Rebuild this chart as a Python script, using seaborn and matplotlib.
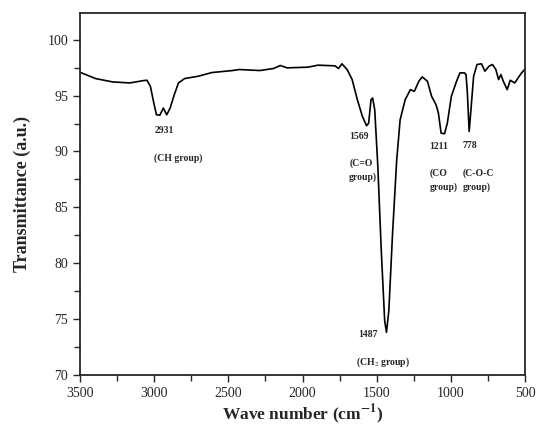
import seaborn as sns
import matplotlib.pyplot as plt
import pandas as pd
from matplotlib.ticker import MultipleLocator

# spectrum (wave number, transmittance)
wave_number = [3500, 3394, 3279, 3164, 3071, 3048, 3025, 3002, 2984, 2961, 2938, 2915,
               2892, 2864, 2836, 2795, 2703, 2611, 2472, 2426, 2288, 2196, 2150, 2104,
               1965, 1896, 1781, 1758, 1735, 1700, 1666, 1631, 1597, 1569, 1555, 1539,
               1528, 1514, 1493, 1470, 1447, 1435, 1419, 1394, 1366, 1343, 1309, 1274,
               1247, 1217, 1194, 1159, 1131, 1101, 1085, 1067, 1044, 1025, 998, 963,
               940, 910, 899, 890, 878, 866, 848, 825, 795, 772, 744, 721, 698, 680,
               664, 648, 622, 601, 571, 548, 525, 500]
transmittance = [97.09, 96.52, 96.22, 96.13, 96.34, 96.37, 95.83, 94.33, 93.28, 93.25, 93.88, 93.28,
                 93.88, 95.08, 96.13, 96.52, 96.73, 97.06, 97.24, 97.33, 97.24, 97.42, 97.69, 97.48,
                 97.54, 97.72, 97.66, 97.42, 97.84, 97.33, 96.43, 94.63, 93.13, 92.30, 92.53, 94.63,
                 94.78, 93.73, 88.64, 81.15, 74.85, 73.81, 75.75, 82.65, 89.24, 92.83, 94.63, 95.53,
                 95.38, 96.28, 96.67, 96.28, 94.93, 94.18, 93.43, 91.64, 91.58, 92.53, 94.93, 96.28,
                 97.03, 97.03, 96.88, 95.23, 91.79, 93.73, 96.73, 97.78, 97.84, 97.18, 97.63, 97.78,
                 97.33, 96.43, 96.88, 96.28, 95.53, 96.37, 96.13, 96.58, 97.03, 97.39]

# peak labels: text, x, y, alignment
peak_labels = ['2931', '(CH group)', '1569', '(C=O\ngroup)', '1211', '778',
               '(CO\ngroup)', '(C-O-C\ngroup)', '1487', '(CH$_2$ group)']
label_x = [2929, 2835, 1621, 1686, 1080, 873, 1142, 919, 1557, 1455]
label_y = [91.85, 89.39, 91.31, 88.3, 90.41, 90.5, 87.4, 87.4, 73.66, 71.1]
label_ha = ['center', 'center', 'center', 'left', 'center', 'center', 'left', 'left', 'center', 'center']

sns.set_style('ticks')
plt.rcParams['font.family'] = ['Liberation Serif', 'DejaVu Serif']
plt.rcParams['mathtext.fontset'] = 'stix'

df = pd.DataFrame({'wn': wave_number, 't': transmittance})

fig = plt.figure(figsize=(5.36, 4.29), dpi=100)
ax = fig.add_axes([0.149, 0.126, 0.831, 0.844])
sns.lineplot(data=df, x='wn', y='t', color='black', linewidth=1.2, ax=ax)

for txt, x, y, ha in zip(peak_labels, label_x, label_y, label_ha):
    ax.text(x, y, txt, ha=ha, va='center', fontsize=7, fontweight='bold', linespacing=1.6)

ax.set_xlim(3500, 500)
ax.set_ylim(70, 102.4)
ax.xaxis.set_major_locator(MultipleLocator(500))
ax.xaxis.set_minor_locator(MultipleLocator(250))
ax.yaxis.set_major_locator(MultipleLocator(5))
ax.yaxis.set_minor_locator(MultipleLocator(2.5))
ax.tick_params(which='major', length=5, width=1, labelsize=10)
ax.tick_params(which='minor', length=4, width=1)
for s in ax.spines.values():
    s.set_linewidth(1.3)

ax.set_xlabel('Wave number (cm$^{\\mathbf{-1}}$)', fontsize=12.5, fontweight='bold', labelpad=2)
ax.set_ylabel('Transmittance (a.u.)', fontsize=13, fontweight='bold', labelpad=12)

fig.savefig('out.png', dpi=100)
